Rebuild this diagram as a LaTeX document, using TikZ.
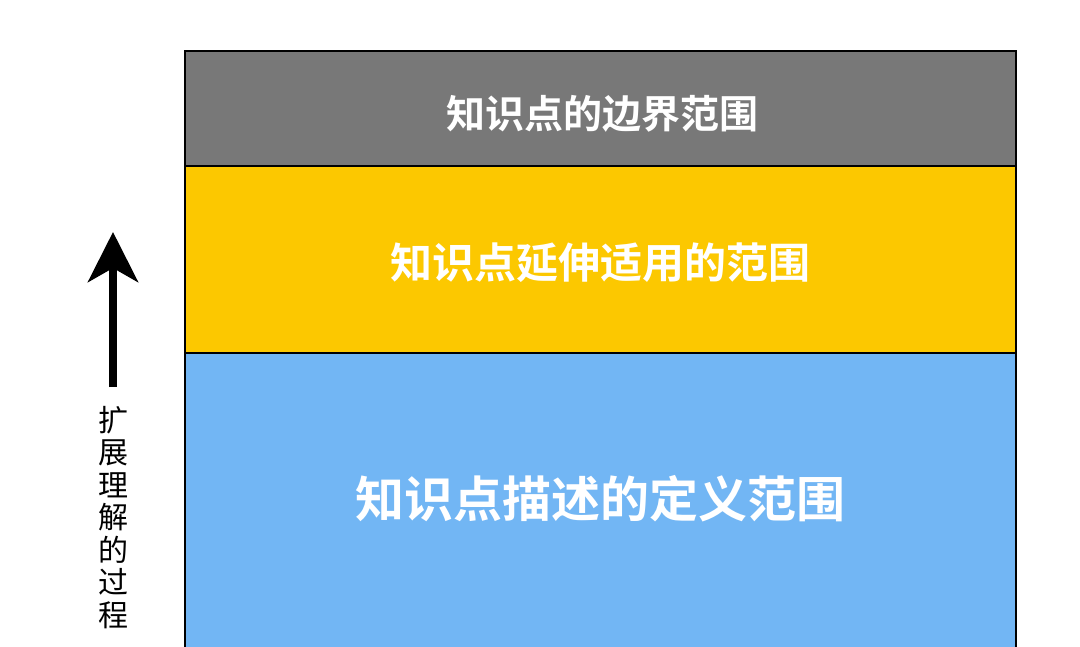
\documentclass[tikz,border=0pt]{standalone}
\usepackage{fontspec}
\newfontfamily\cjk{Noto Sans CJK SC}
\newfontfamily\cjkbold{Noto Sans CJK SC Bold}
\usetikzlibrary{arrows.meta}
\definecolor{bandgray}{HTML}{787878}
\definecolor{bandyellow}{HTML}{FCC800}
\definecolor{bandblue}{HTML}{72B6F4}
\begin{document}
\begin{tikzpicture}[x=1pt, y=-1pt]
% Fix the picture size (pixel coordinates, y downwards)
\useasboundingbox (0, 0) rectangle (1080, 646);
\tikzset{
  band/.style={draw=black, line width=1.6pt},
  bandtext/.style={text=white, font=\cjkbold, anchor=center, inner sep=0pt},
}

% Draw the three bands
\draw[band, fill=bandgray] (185, 51) rectangle (1016, 166);
\node[bandtext, font=\cjkbold\fontsize{39}{39}\selectfont] (boundary) at (602, 114) {知识点的边界范围};
\draw[band, fill=bandyellow] (185, 166) rectangle (1016, 353);
\node[bandtext, font=\cjkbold\fontsize{42}{42}\selectfont] (extension) at (600, 263) {知识点延伸适用的范围};
\draw[band, fill=bandblue] (185, 353) rectangle (1016, 660);
\node[bandtext, font=\cjkbold\fontsize{49}{49}\selectfont] (definition) at (600, 499) {知识点描述的定义范围};

% Arrow and the vertical label
\coordinate (arrowfoot) at (113, 387);
\coordinate (arrowtip) at (113, 232);
\draw[line width=8pt, -{Stealth[length=50pt, width=50pt, inset=14pt]}] (arrowfoot) -- (arrowtip);
\node[font=\cjk\fontsize{30}{32.5}\selectfont, align=center, inner sep=0pt, anchor=north] (process) at (113, 406) {扩\\展\\理\\解\\的\\过\\程};
\end{tikzpicture}
\end{document}
